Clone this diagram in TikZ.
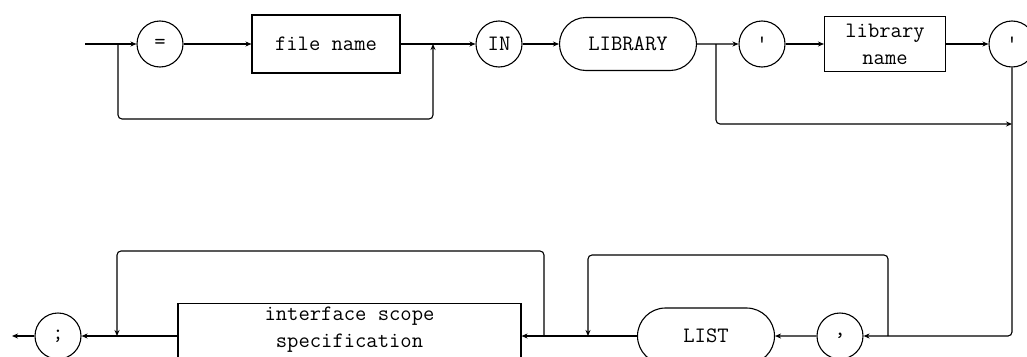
\documentclass[tikz,border=0pt]{standalone}
\usepackage{fontspec}
\usetikzlibrary{arrows.meta,shapes.misc}
\begin{document}
\begin{tikzpicture}[x=1pt,y=-1pt,
  line width=1.1pt,
  >={Stealth[length=6pt,width=5pt]},
  every node/.style={font=\ttfamily\fontsize{22}{27}\selectfont, inner sep=3pt},
  term/.style={draw,circle,minimum size=46pt},
  nonterm/.style={draw,rectangle,align=center},
  rword/.style={draw,rounded rectangle,minimum height=53pt},
  backline/.style={->,rounded corners=4pt}]
\useasboundingbox (0,0) rectangle (1027,356);
\clip (0,0) rectangle (1027,356);
% top row
\node[term] (eq) at (160,44) {=};
\node[nonterm, minimum width=148pt, minimum height=58pt] (fname) at (326,44) {file name};
\node[term] (in) at (499,44) {IN};
\node[rword, minimum width=143pt] (lib) at (628,44) {LIBRARY};
\node[term] (q1) at (762,44) {'};
\node[nonterm, minimum width=121pt, minimum height=55pt] (lname) at (885,44) {library\\name};
\node[term] (q2) at (1012,44) {'};
% bottom row
\node[term] (semi) at (58,336) {;};
\node[draw, minimum width=343pt, minimum height=80pt, anchor=north,
  label={[anchor=north, inner sep=3pt, align=center]north:interface scope\\specification}]
  (iss) at (349.5,303) {};
\node[rword, minimum width=143pt, minimum height=56pt] (list) at (706,336) {LIST};
\node[term] (comma) at (840,336) {,};
% junction coordinates
\coordinate (start) at (85,44);
\coordinate (b1) at (118,44);
\coordinate (r1) at (433,44);
\coordinate (by1) at (0,119);
\coordinate (b2) at (716,44);
\coordinate (by2) at (0,124);
\coordinate (rv) at (1011,336);
\coordinate (l2s) at (888,336);
\coordinate (l2e) at (588,336);
\coordinate (l2top) at (0,255);
\coordinate (l1s) at (544,336);
\coordinate (l1e) at (117,336);
\coordinate (l1top) at (0,251);
\coordinate (exit) at (12,336);
% connectors top
\draw[->] (start) -- (eq);
\draw[->] (eq) -- (fname);
\draw[->] (fname) -- (in);
\draw[backline] (b1) |- (r1 |- by1) -- (r1);
\draw[->] (in) -- (lib);
\draw[->] (lib) -- (q1);
\draw[->] (q1) -- (lname);
\draw[->] (lname) -- (q2);
\draw[backline] (b2) |- (q2 |- by2);
\draw[backline] (q2) -- (q2 |- rv) -- (comma);
% connectors bottom
\draw[->] (comma) -- (list);
\draw[->] (list.west) -- (list.west -| iss.east);
\draw[backline] (l2s) |- (l2e |- l2top) -- (l2e);
\draw[backline] (l1s) |- (l1e |- l1top) -- (l1e);
\draw[->] (iss.west |- semi) -- (semi);
\draw[->] (semi) -- (exit);
\end{tikzpicture}
\end{document}
